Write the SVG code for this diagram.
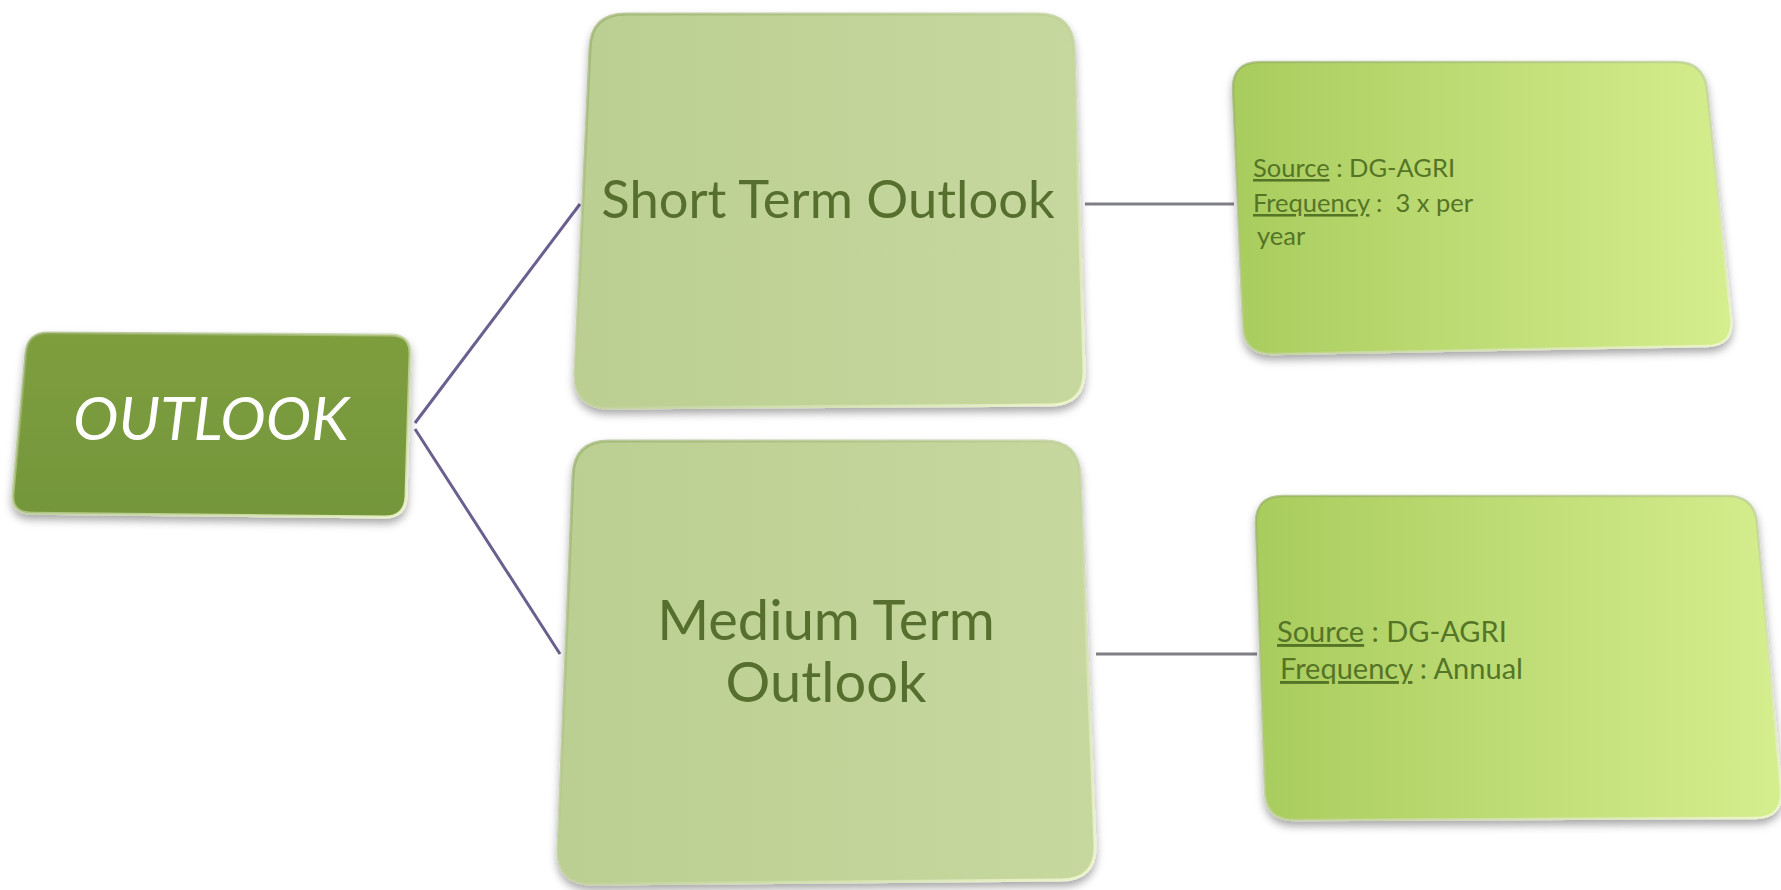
<svg xmlns="http://www.w3.org/2000/svg" width="1781" height="890" viewBox="0 0 1781 890">
<defs>
<filter id="sh" x="-10%" y="-10%" width="120%" height="125%">
<feDropShadow dx="0" dy="5" stdDeviation="4" flood-color="#000" flood-opacity="0.35"/>
</filter>
<linearGradient id="gRoot" x1="0" y1="0" x2="0" y2="1">
<stop offset="0" stop-color="#7e9e3e"/>
<stop offset="1" stop-color="#74963a"/>
</linearGradient>
<linearGradient id="gMid" x1="0" y1="0" x2="1" y2="0">
<stop offset="0" stop-color="#bccf92"/>
<stop offset="1" stop-color="#c6d89e"/>
</linearGradient>
<linearGradient id="gLeaf" x1="0" y1="0" x2="1" y2="0">
<stop offset="0" stop-color="#a9cc5e"/>
<stop offset="1" stop-color="#d5ee8e"/>
</linearGradient>
<linearGradient id="gEdge" x1="0" y1="0" x2="1" y2="1">
<stop offset="0" stop-color="#8fa860" stop-opacity="0.6"/>
<stop offset="1" stop-color="#f0f8d0" stop-opacity="0.9"/>
</linearGradient>
</defs>
<style>
.root{fill:url(#gRoot);filter:url(#sh);stroke:url(#gEdge);stroke-width:3}
.mid{fill:url(#gMid);filter:url(#sh);stroke:url(#gEdge);stroke-width:3}
.leaf{fill:url(#gLeaf);filter:url(#sh);stroke:url(#gEdge);stroke-width:2.5}
.c1{stroke:#6a5f8e;stroke-width:3;fill:none}
.c2{stroke:#7f7f86;stroke-width:3;fill:none}
.tRoot{font-family:Lato,"Liberation Sans",sans-serif;font-style:italic;font-size:61px;fill:#ffffff;text-anchor:middle}
.tMid{font-family:Lato,"Liberation Sans",sans-serif;fill:#566f2e;text-anchor:middle}
.tLeaf{font-family:Lato,"Liberation Sans",sans-serif;fill:#557526;white-space:pre}
.u{text-decoration:underline}
</style>
<g id="connectors">
<line class="c1" x1="415" y1="423" x2="580" y2="204"/>
<line class="c1" x1="415" y1="429" x2="560" y2="654"/>
<line class="c2" x1="1085" y1="204" x2="1234" y2="204"/>
<line class="c2" x1="1096" y1="654" x2="1257" y2="654"/>
</g>
<g id="outlook">
<path class="root" d="M 48,333.1 L 391,334.9 Q 411,335 410,355 L 406,497 Q 405,517 385,517 L 31,513.2 Q 11,513 13,493 L 26,353 Q 28,333 48,333.1 Z"/>
<text class="tRoot" x="211" y="440">OUTLOOK</text>
</g>
<g id="short-term">
<path class="mid" d="M 626,14 L 1038,14 Q 1073,14 1074,49 L 1084,370 Q 1085,405 1050,405 L 609,408 Q 574,408 575,373 L 590,49 Q 591,14 626,14 Z"/>
<text class="tMid" font-size="52.5" x="828" y="218">Short Term Outlook</text>
</g>
<g id="medium-term">
<path class="mid" d="M 609,441 L 1044,441 Q 1079,441 1080,476 L 1095,845 Q 1096,880 1061,880 L 592,884 Q 557,884 558,849 L 573,476 Q 574,441 609,441 Z"/>
<text class="tMid" font-size="56" x="826" y="640">Medium Term</text>
<text class="tMid" font-size="56" x="826" y="702">Outlook</text>
</g>
<g id="short-source">
<path class="leaf" d="M 1260,62 L 1676,62 Q 1704,62 1707,90 L 1731,318 Q 1734,346 1706,346 L 1272,354 Q 1244,354 1243,326 L 1233,90 Q 1232,62 1260,62 Z"/>
<text class="tLeaf" font-size="25.5" x="1253" y="177"><tspan class="u">Source</tspan> : DG-AGRI</text>
<text class="tLeaf" font-size="25.5" x="1253" y="212"><tspan class="u">Frequency</tspan> :  3 x per</text>
<text class="tLeaf" font-size="25.5" x="1257" y="245">year</text>
</g>
<g id="medium-source">
<path class="leaf" d="M 1283,496 L 1727,496 Q 1755,496 1757,524 L 1781,790 Q 1783,818 1755,818 L 1294,820 Q 1266,820 1265,792 L 1256,524 Q 1255,496 1283,496 Z"/>
<text class="tLeaf" font-size="29" x="1277" y="642"><tspan class="u">Source</tspan> : DG-AGRI</text>
<text class="tLeaf" font-size="29" x="1280" y="679"><tspan class="u">Frequency</tspan> : Annual</text>
</g>
</svg>
